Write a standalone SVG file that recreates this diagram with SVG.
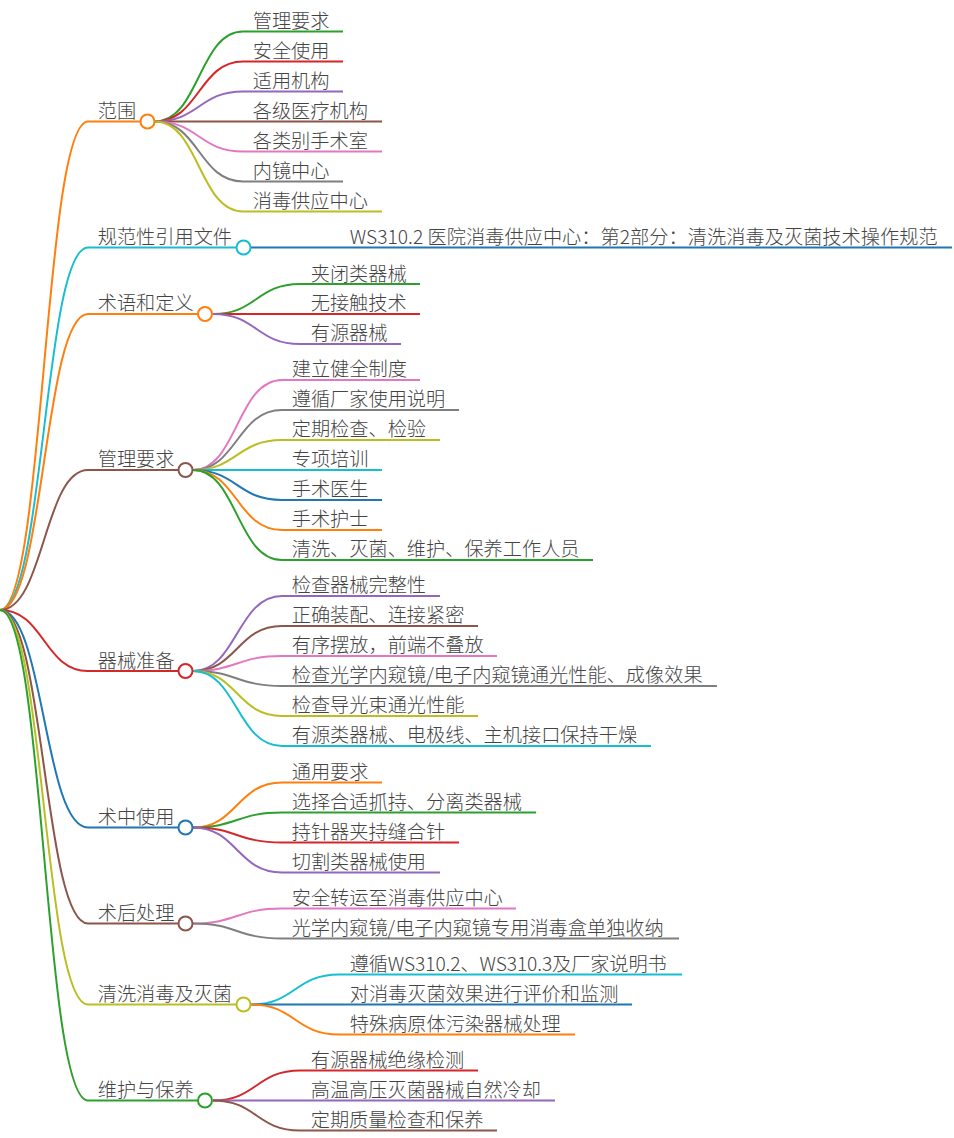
<svg xmlns="http://www.w3.org/2000/svg" width="954" height="1138" viewBox="0 0 954 1138">
<style>
text{font-family:"Noto Sans CJK SC","Microsoft YaHei",sans-serif;font-size:19.2px;font-weight:300;fill:#444;transform:translate(-.3px,.7px)}
path{fill:none;stroke-width:2}
circle{fill:#fff;stroke-width:2}
.o{stroke:#ff7f0e}.g{stroke:#2ca02c}.r{stroke:#d62728}.p{stroke:#9467bd}.b{stroke:#8c564b}.k{stroke:#e377c2}.y{stroke:#7f7f7f}.l{stroke:#bcbd22}.c{stroke:#17becf}.u{stroke:#1f77b4}
</style>
<rect width="954" height="1138" fill="#fff"/>
<g id="connectors">
<path class="o" d="M0 610C44 610 44 121.500 88 121.500H140.500"/>
<path class="c" d="M0 610C44 610 44 247.500 88 247.500H236"/>
<path class="o" d="M0 610C44 610 44 314 88 314H198"/>
<path class="b" d="M0 610C44 610 44 470 88 470H178"/>
<path class="r" d="M0 610C44 610 44 671 88 671H178"/>
<path class="u" d="M0 610C44 610 44 827.500 88 827.500H178"/>
<path class="b" d="M0 610C44 610 44 923.500 88 923.500H178"/>
<path class="l" d="M0 610C44 610 44 1004.500 88 1004.500H236"/>
<path class="g" d="M0 610C44 610 44 1100.500 88 1100.500H198"/>
<path class="g" d="M155 121.500C199 121.500 199 31.500 243 31.500H343"/>
<path class="r" d="M155 121.500C199 121.500 199 61.500 243 61.500H343"/>
<path class="p" d="M155 121.500C199 121.500 199 91.500 243 91.500H343"/>
<path class="b" d="M155 121.500H382"/>
<path class="k" d="M155 121.500C199 121.500 199 151.500 243 151.500H382"/>
<path class="y" d="M155 121.500C199 121.500 199 181.500 243 181.500H343"/>
<path class="l" d="M155 121.500C199 121.500 199 211.500 243 211.500H382"/>
<path class="u" d="M251 247.500H952"/>
<path class="g" d="M213 314C256.500 314 256.500 284 300 284H420"/>
<path class="r" d="M213 314C256.500 314 256.500 314 300 314H420"/>
<path class="p" d="M213 314C256.500 314 256.500 344 300 344H401"/>
<path class="k" d="M193 470C237 470 237 380 282 380H420"/>
<path class="y" d="M193 470C237 470 237 410 282 410H459"/>
<path class="l" d="M193 470C237 470 237 440 282 440H440"/>
<path class="c" d="M193 470H382"/>
<path class="u" d="M193 470C237 470 237 500 282 500H382"/>
<path class="o" d="M193 470C237 470 237 530 282 530H382"/>
<path class="g" d="M193 470C237 470 237 560 282 560H593"/>
<path class="p" d="M193 671C237 671 237 596 282 596H440"/>
<path class="b" d="M193 671C237 671 237 626 282 626H478"/>
<path class="k" d="M193 671C237 671 237 656 282 656H497"/>
<path class="y" d="M193 671C237 671 237 686 282 686H717"/>
<path class="l" d="M193 671C237 671 237 716 282 716H478"/>
<path class="c" d="M193 671C237 671 237 746 282 746H651"/>
<path class="o" d="M193 827.500C237 827.500 237 782.500 282 782.500H382"/>
<path class="g" d="M193 827.500C237 827.500 237 812.500 282 812.500H536"/>
<path class="r" d="M193 827.500C237 827.500 237 842.500 282 842.500H459"/>
<path class="p" d="M193 827.500C237 827.500 237 872.500 282 872.500H440"/>
<path class="k" d="M193 923.500C237 923.500 237 908.500 282 908.500H516"/>
<path class="y" d="M193 923.500C237 923.500 237 938.500 282 938.500H679"/>
<path class="c" d="M251 1004.500C295 1004.500 295 974.500 339 974.500H682"/>
<path class="u" d="M251 1004.500H632"/>
<path class="o" d="M251 1004.500C295 1004.500 295 1034.500 339 1034.500H575"/>
<path class="r" d="M213 1100.500C256.500 1100.500 256.500 1070.500 300 1070.500H478"/>
<path class="p" d="M213 1100.500H555"/>
<path class="b" d="M213 1100.500C256.500 1100.500 256.500 1130.500 300 1130.500H497"/>
</g>
<g id="n1"><text x="98" y="117">范围</text><circle class="o" cx="147.500" cy="121.500" r="7"/></g>
<g id="n1-1"><text x="253" y="27">管理要求</text></g>
<g id="n1-2"><text x="253" y="57">安全使用</text></g>
<g id="n1-3"><text x="253" y="87">适用机构</text></g>
<g id="n1-4"><text x="253" y="117">各级医疗机构</text></g>
<g id="n1-5"><text x="253" y="147">各类别手术室</text></g>
<g id="n1-6"><text x="253" y="177">内镜中心</text></g>
<g id="n1-7"><text x="253" y="207">消毒供应中心</text></g>
<g id="n2"><text x="98" y="243">规范性引用文件</text><circle class="c" cx="243.500" cy="247.500" r="7"/></g>
<g id="n2-1"><text x="350" y="243" textLength="588">WS310.2 医院消毒供应中心：第2部分：清洗消毒及灭菌技术操作规范</text></g>
<g id="n3"><text x="98" y="309">术语和定义</text><circle class="o" cx="205" cy="314" r="7"/></g>
<g id="n3-1"><text x="311" y="280">夹闭类器械</text></g>
<g id="n3-2"><text x="311" y="309">无接触技术</text></g>
<g id="n3-3"><text x="311" y="339">有源器械</text></g>
<g id="n4"><text x="98" y="465">管理要求</text><circle class="b" cx="185.500" cy="470" r="7"/></g>
<g id="n4-1"><text x="292" y="375">建立健全制度</text></g>
<g id="n4-2"><text x="292" y="405">遵循厂家使用说明</text></g>
<g id="n4-3"><text x="292" y="435">定期检查、检验</text></g>
<g id="n4-4"><text x="292" y="465">专项培训</text></g>
<g id="n4-5"><text x="292" y="495">手术医生</text></g>
<g id="n4-6"><text x="292" y="525">手术护士</text></g>
<g id="n4-7"><text x="292" y="555">清洗、灭菌、维护、保养工作人员</text></g>
<g id="n5"><text x="98" y="667">器械准备</text><circle class="r" cx="185.500" cy="671" r="7"/></g>
<g id="n5-1"><text x="292" y="591">检查器械完整性</text></g>
<g id="n5-2"><text x="292" y="621">正确装配、连接紧密</text></g>
<g id="n5-3"><text x="292" y="651">有序摆放，前端不叠放</text></g>
<g id="n5-4"><text x="292" y="681" textLength="411">检查光学内窥镜/电子内窥镜通光性能、成像效果</text></g>
<g id="n5-5"><text x="292" y="711">检查导光束通光性能</text></g>
<g id="n5-6"><text x="292" y="741">有源类器械、电极线、主机接口保持干燥</text></g>
<g id="n6"><text x="98" y="823">术中使用</text><circle class="u" cx="185.500" cy="827.500" r="7"/></g>
<g id="n6-1"><text x="292" y="778">通用要求</text></g>
<g id="n6-2"><text x="292" y="808">选择合适抓持、分离类器械</text></g>
<g id="n6-3"><text x="292" y="838">持针器夹持缝合针</text></g>
<g id="n6-4"><text x="292" y="868">切割类器械使用</text></g>
<g id="n7"><text x="98" y="919">术后处理</text><circle class="b" cx="185.500" cy="923.500" r="7"/></g>
<g id="n7-1"><text x="292" y="904">安全转运至消毒供应中心</text></g>
<g id="n7-2"><text x="292" y="934" textLength="372">光学内窥镜/电子内窥镜专用消毒盒单独收纳</text></g>
<g id="n8"><text x="98" y="1000">清洗消毒及灭菌</text><circle class="l" cx="243.500" cy="1004.500" r="7"/></g>
<g id="n8-1"><text x="350" y="970" textLength="317">遵循WS310.2、WS310.3及厂家说明书</text></g>
<g id="n8-2"><text x="350" y="1000">对消毒灭菌效果进行评价和监测</text></g>
<g id="n8-3"><text x="350" y="1030">特殊病原体污染器械处理</text></g>
<g id="n9"><text x="98" y="1096">维护与保养</text><circle class="g" cx="205" cy="1100.500" r="7"/></g>
<g id="n9-1"><text x="311" y="1066">有源器械绝缘检测</text></g>
<g id="n9-2"><text x="311" y="1096">高温高压灭菌器械自然冷却</text></g>
<g id="n9-3"><text x="311" y="1126">定期质量检查和保养</text></g>
</svg>
